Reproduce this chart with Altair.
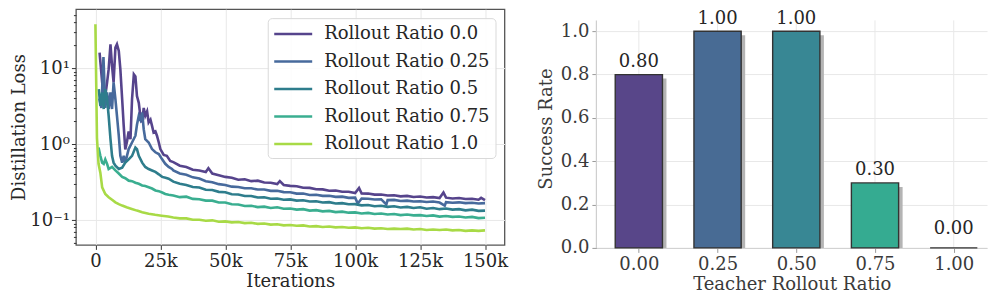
import altair as alt
import pandas as pd

FONT = "DejaVu Serif"
FS = 18

# ---------------- left panel data (iterations in thousands) ----------------
SERIES = ["Rollout Ratio 0.0", "Rollout Ratio 0.25", "Rollout Ratio 0.5",
          "Rollout Ratio 0.75", "Rollout Ratio 1.0"]
LINE_COLORS = ["#56448c", "#476a9c", "#2e7d8c", "#3aae90", "#a8da46"]

late_x = [30, 32.5, 35, 37.5, 40, 42.5, 45, 47.5, 50, 52.5, 55, 57.5, 60, 62.5,
          65, 67.5, 70, 72.5, 75, 77.5, 80, 82.5, 85, 87.5, 90, 92.5, 95, 97.5,
          100, 102.5, 105, 107.5, 110, 112.5, 115, 117.5, 120, 122.5, 125, 127.5,
          130, 132.5, 135, 137.5, 140, 142.5, 145, 147.5, 150]

r000_x = [1.6, 2.6, 3.2, 3.8, 4.5, 5.1, 5.8, 6.4, 7.0, 7.7, 8.3, 9.0, 9.6, 10.3,
          10.9, 11.5, 12.2, 12.8, 13.5, 14.1, 14.8, 15.4, 16.0, 16.7, 17.3, 18.0,
          18.6, 19.2, 19.9, 20.5, 21.2, 21.8, 22.4, 23.1, 23.7, 24.4, 25.0, 26.3,
          27.5, 28.8,
          30, 32.5, 35, 37.5, 40, 42.5, 43.5, 45, 47.5, 50, 52.5, 55, 57.5, 60,
          62.5, 65, 67.5, 70, 71, 72.5, 75, 77.5, 80, 82.5, 85, 87.5, 90, 92.5,
          95, 97.5, 100, 101.5, 102.5, 105, 107.5, 110, 112.5, 115, 117.5, 120,
          122.5, 125, 127.5, 130, 132.5, 134, 135, 137.5, 140, 142.5, 145, 147.5,
          148.5, 150]
r000_y = [16, 6.5, 4.8, 4.3, 6.5, 9.7, 20.7, 10.7, 6.5, 18.7, 20.7, 16.9, 9.7, 3.9,
          1.74, 0.85, 1.1, 1.47, 1.16, 3.9, 8.3, 7.8, 4.3, 3.5, 2.36, 1.93,
          3.0, 2.36, 2.7, 1.93, 2.1, 1.74, 1.42, 1.47, 1.29, 1.05, 0.86, 0.72,
          0.70, 0.60,
          0.58, 0.52, 0.50, 0.46, 0.45, 0.43, 0.48, 0.41, 0.39, 0.37, 0.36, 0.34,
          0.345, 0.325, 0.33, 0.312, 0.31, 0.298, 0.325, 0.29, 0.282, 0.279,
          0.266, 0.265, 0.254, 0.253, 0.243, 0.245, 0.236, 0.236, 0.227, 0.265,
          0.224, 0.223, 0.216, 0.217, 0.21, 0.212, 0.205, 0.208, 0.201, 0.204,
          0.198, 0.2, 0.195, 0.23, 0.197, 0.192, 0.195, 0.189, 0.191, 0.185,
          0.196, 0.183]

r025_x = [1.5, 2.3, 3.1, 3.8, 4.5, 5.1, 5.8, 6.4, 7.0, 7.7, 8.3, 9.0, 9.6, 10.3,
          10.9, 11.5, 12.8, 14.1, 15.4, 16.0, 16.7, 17.3, 18.0, 18.6, 19.2, 20.5,
          21.8, 23.1, 24.4, 25.7, 26.9, 28.2, 29.5,
          30, 32.5, 35, 37.5, 40, 42.5, 45, 47.5, 50, 52.5, 55, 57.5, 60, 62.5,
          65, 67.5, 70, 72.5, 75, 77.5, 80, 82.5, 85, 87.5, 90, 92.5, 95, 97.5,
          100, 101, 102.5, 105, 107.5, 110, 112, 112.5, 115, 117.5, 120, 122.5,
          125, 127.5, 130, 132.5, 134.5, 135, 137.5, 140, 142.5, 145, 147.5, 150]
r025_y = [4.0, 3.0, 14, 3.0, 4.8, 2.9, 4.8, 2.9, 6.5, 3.9, 2.36, 1.29, 0.70, 0.57,
          0.70, 0.57, 0.86, 1.05, 1.29, 1.8, 2.36, 2.1, 2.6, 1.57, 1.16, 1.05,
          0.86, 0.78, 0.74, 0.63, 0.55, 0.50, 0.47,
          0.45, 0.41, 0.395, 0.365, 0.352, 0.325, 0.315, 0.297, 0.29, 0.275,
          0.272, 0.262, 0.262, 0.252, 0.252, 0.242, 0.243, 0.233, 0.232, 0.223,
          0.223, 0.214, 0.215, 0.208, 0.209, 0.202, 0.203, 0.196, 0.197, 0.165,
          0.192, 0.191, 0.186, 0.188, 0.16, 0.183, 0.184, 0.178, 0.18, 0.175,
          0.177, 0.173, 0.175, 0.17, 0.155, 0.172, 0.169, 0.171, 0.167, 0.169,
          0.165, 0.167]

r050_early_x = [1.3, 1.9, 2.6, 3.2, 3.8, 4.5, 5.1, 5.8, 6.4, 7.0, 7.7, 9.0, 10.3,
                11.5, 12.8, 14.1, 15.4, 16.0, 16.7, 18.0, 19.2, 20.5, 21.8, 23.1,
                24.4, 25.7, 27.0, 28.2]
r050_early_y = [5.3, 3.2, 4.8, 2.9, 5.3, 3.9, 2.36, 1.16, 0.70, 0.57, 0.52, 0.47,
                0.49, 0.57, 0.63, 0.70, 0.9, 0.86, 0.70, 0.57, 0.50, 0.47, 0.45,
                0.43, 0.40, 0.37, 0.36, 0.35]
r050_late_y = [0.32, 0.30, 0.29, 0.272, 0.268, 0.25, 0.248, 0.235, 0.232, 0.218,
               0.217, 0.207, 0.207, 0.198, 0.199, 0.191, 0.192, 0.185, 0.187, 0.18,
               0.182, 0.175, 0.177, 0.17, 0.172, 0.165, 0.167, 0.161, 0.162, 0.156,
               0.158, 0.152, 0.154, 0.149, 0.152, 0.146, 0.149, 0.144, 0.147, 0.141,
               0.144, 0.139, 0.142, 0.137, 0.139, 0.134, 0.137, 0.132, 0.133]

r075_early_x = [1.2, 1.9, 2.6, 3.2, 3.8, 4.5, 5.1, 6.4, 7.7, 9.0, 10.3, 11.5, 12.8,
                14.1, 15.4, 16.7, 18.0, 19.2, 20.5, 21.8, 23.1, 24.4, 25.7, 26.9,
                28.2]
r075_early_y = [0.9, 0.7, 0.57, 0.55, 0.63, 0.55, 0.47, 0.5, 0.45, 0.41, 0.37,
                0.355, 0.33, 0.325, 0.31, 0.30, 0.285, 0.28, 0.27, 0.26, 0.245,
                0.24, 0.23, 0.22, 0.215]
r075_late_y = [0.21, 0.2, 0.203, 0.19, 0.188, 0.18, 0.18, 0.17, 0.17, 0.161, 0.16,
               0.153, 0.154, 0.148, 0.15, 0.144, 0.147, 0.141, 0.142, 0.137, 0.139,
               0.133, 0.135, 0.13, 0.132, 0.127, 0.129, 0.125, 0.126, 0.122, 0.124,
               0.12, 0.122, 0.118, 0.12, 0.116, 0.118, 0.115, 0.116, 0.113, 0.115,
               0.111, 0.113, 0.11, 0.111, 0.108, 0.11, 0.106, 0.107]

r100_early_x = [0, 0.6, 1.2, 1.9, 2.6, 3.8, 5.1, 6.4, 7.7, 9.0, 10.3, 12.0, 14.0,
                16.0, 18.0, 20.5, 23.0, 25.5, 28.0]
r100_early_y = [38, 1.2, 0.55, 0.42, 0.27, 0.22, 0.2, 0.185, 0.171, 0.162, 0.155,
                0.147, 0.14, 0.133, 0.127, 0.121, 0.117, 0.114, 0.111]
r100_late_y = [0.108, 0.105, 0.105, 0.101, 0.101, 0.098, 0.099, 0.095, 0.096, 0.093,
               0.094, 0.091, 0.092, 0.089, 0.09, 0.087, 0.088, 0.085, 0.086, 0.084,
               0.085, 0.082, 0.083, 0.081, 0.082, 0.08, 0.081, 0.079, 0.08, 0.078,
               0.079, 0.077, 0.078, 0.076, 0.077, 0.076, 0.077, 0.075, 0.076, 0.074,
               0.075, 0.074, 0.075, 0.073, 0.074, 0.072, 0.073, 0.072, 0.073]

X_TICKS = [0, 25, 50, 75, 100, 125, 150]
Y_TICKS = [0.1, 1, 10]
Y_MINOR = [0.05, 0.06, 0.07, 0.08, 0.09, 0.2, 0.3, 0.4, 0.5, 0.6, 0.7, 0.8, 0.9,
           2, 3, 4, 5, 6, 7, 8, 9, 20, 30, 40, 50]

# ---------------- right panel data ----------------
RATIOS = [0.0, 0.25, 0.5, 0.75, 1.0]
SUCCESS = [0.80, 1.00, 1.00, 0.30, 0.00]
BAR_NAMES = ["0.00", "0.25", "0.50", "0.75", "1.00"]
BAR_COLORS = ["#584689", "#486b94", "#388794", "#35ab91", "#a8da46"]
Y2_TICKS = [0.0, 0.2, 0.4, 0.6, 0.8, 1.0]

# ---------------- build tables ----------------
series_points = [
    (SERIES[0], r000_x, r000_y),
    (SERIES[1], r025_x, r025_y),
    (SERIES[2], r050_early_x + late_x, r050_early_y + r050_late_y),
    (SERIES[3], r075_early_x + late_x, r075_early_y + r075_late_y),
    (SERIES[4], r100_early_x + late_x, r100_early_y + r100_late_y),
]
rows = []
for name, xs, ys in series_points:
    assert len(xs) == len(ys), name
    for x, y in zip(xs, ys):
        rows.append({"iter": x, "loss": y, "series": name})
loss_df = pd.DataFrame(rows)

bar_df = pd.DataFrame({"ratio": RATIOS, "rate": SUCCESS, "name": BAR_NAMES})

TXT = "#262626"
TXT2 = "#3a3a3a"

# ---------------- left panel ----------------
x_scale = alt.Scale(domain=[-7.5, 157.5], nice=False, zero=False)
y_scale = alt.Scale(type="log", domain=[0.047, 60], nice=False)

lines = alt.Chart(loss_df).mark_line(strokeWidth=2.6, clip=True).encode(
    x=alt.X("iter:Q", scale=x_scale,
            axis=alt.Axis(values=X_TICKS, title="Iterations",
                          labelExpr="datum.value == 0 ? '0' : datum.value + 'k'",
                          grid=True, gridColor="#e8e8e8", domain=False,
                          tickSize=4.5, tickColor="#333", labelPadding=3,
                          titlePadding=2, labelColor=TXT, titleColor=TXT)),
    y=alt.Y("loss:Q", scale=y_scale,
            axis=alt.Axis(values=Y_TICKS, title="Distillation Loss",
                          labelExpr="datum.value >= 10 ? '10¹' : (datum.value >= 1 ? '10⁰' : '10⁻¹')",
                          grid=True, gridColor="#e8e8e8", domain=False,
                          tickSize=4.5, tickColor="#333", labelPadding=2,
                          titlePadding=1, labelColor=TXT, titleColor=TXT)),
    color=alt.Color("series:N", scale=alt.Scale(domain=SERIES, range=LINE_COLORS),
                    legend=alt.Legend(title=None, orient="top-right", offset=9,
                                      fillColor="rgba(255,255,255,0.85)",
                                      strokeColor="#d9d9d9", cornerRadius=4,
                                      padding=5, labelFont=FONT, labelFontSize=FS,
                                      labelColor=TXT, labelLimit=400,
                                      symbolType="M-1,0H3", symbolSize=361,
                                      symbolStrokeWidth=2.5, labelOffset=29.5,
                                      rowPadding=7.5)),
    order=alt.Order("iter:Q"),
)

minor = alt.Chart(pd.DataFrame({"m": [1.0]})).mark_point(opacity=0).encode(
    y=alt.Y("m:Q", scale=y_scale,
            axis=alt.Axis(values=Y_MINOR, labels=False, grid=False, domain=False,
                          ticks=True, tickSize=2.5, tickColor="#333",
                          orient="left", title=None)),
)

left = alt.layer(lines, minor).resolve_axis(y="independent").properties(
    width=429, height=236,
    view=alt.ViewBackground(stroke="#555555", strokeWidth=1.3),
)

# ---------------- right panel ----------------
rx_scale = alt.Scale(domain=[-0.1348, 1.1057], nice=False, zero=False)
ry_scale = alt.Scale(domain=[0, 1.102], nice=False)
BAR_HALF = 0.075

rbase = alt.Chart(bar_df).transform_calculate(
    lo=f"datum.ratio - {BAR_HALF}", hi=f"datum.ratio + {BAR_HALF}",
    ly="max(datum.rate, 0.03)", txt="format(datum.rate, '.2f')",
)

vgrid = rbase.mark_rule(color="#e8e8e8", strokeWidth=1).encode(
    x=alt.X("ratio:Q", scale=rx_scale,
            axis=alt.Axis(values=RATIOS, format=".2f", title="Teacher Rollout Ratio",
                          grid=False, domain=True, domainColor="#cfcfcf",
                          tickSize=4.5, tickColor="#9a9a9a", labelPadding=3,
                          titlePadding=2, labelColor=TXT2, titleColor=TXT2)),
    y=alt.Y("zero:Q", scale=ry_scale,
            axis=alt.Axis(values=Y2_TICKS, format=".1f", title="Success Rate",
                          grid=True, gridColor="#e8e8e8", domain=False,
                          tickSize=4.5, tickColor="#9a9a9a", labelPadding=3,
                          titlePadding=5, labelColor=TXT2, titleColor=TXT2)),
    y2=alt.datum(1.05),
).transform_calculate(zero="0")

spine = alt.Chart(pd.DataFrame({"a": [0]})).mark_rule(color="#cfcfcf", strokeWidth=1.2).encode(
    x=alt.value(0), y=alt.datum(0), y2=alt.datum(1.05),
)

shadow = rbase.mark_rect(color="#b4b4b4", xOffset=4, x2Offset=4, yOffset=4, clip=True).encode(
    x="lo:Q", x2="hi:Q", y="rate:Q", y2=alt.datum(0),
)

bars = rbase.mark_rect(stroke="#333333", strokeWidth=1.4).encode(
    x="lo:Q", x2="hi:Q", y="rate:Q", y2=alt.datum(0),
    color=alt.Color("name:N", scale=alt.Scale(domain=BAR_NAMES, range=BAR_COLORS),
                    legend=None),
)

labels = rbase.mark_text(dy=-7.5, baseline="alphabetic", font=FONT, fontSize=FS,
                         color=TXT).encode(
    x="ratio:Q", y="ly:Q", text="txt:N",
)

right = alt.layer(vgrid, spine, shadow, bars, labels).properties(width=391, height=239)

chart = alt.hconcat(left, right, spacing=28).resolve_scale(
    color="independent"
).resolve_legend(color="independent").properties(
    padding={"left": 2, "top": 0, "right": 0, "bottom": 0},
    background="white",
).configure_view(stroke="transparent").configure_axis(
    labelFont=FONT, titleFont=FONT, labelFontSize=FS, titleFontSize=FS,
    titleFontWeight="normal",
)

chart.save("out.html", embed_options={"renderer": "svg", "actions": False})
